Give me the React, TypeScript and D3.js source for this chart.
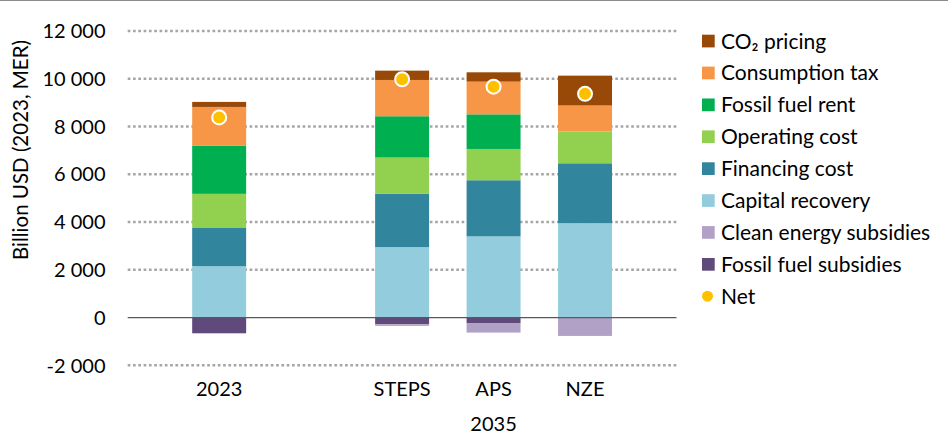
import React from "react";
import * as d3 from "d3";

const categories = ["2023", "", "STEPS", "APS", "NZE"];
const capitalRecovery = [2150, 0, 2950, 3400, 3950];
const financingCost = [1600, 0, 2230, 2350, 2510];
const operatingCost = [1430, 0, 1520, 1310, 1330];
const fossilFuelRent = [2010, 0, 1730, 1450, 0];
const consumptionTax = [1630, 0, 1520, 1370, 1090];
const co2Pricing = [210, 0, 390, 390, 1250];
const fossilFuelSubsidies = [-660, 0, -280, -230, 0];
const cleanEnergySubsidies = [0, 0, -70, -400, -770];
const net: (number | null)[] = [8380, null, 9980, 9670, 9370];
const yTicks = [-2000, 0, 2000, 4000, 6000, 8000, 10000, 12000];
const groupLabel = "2035";

const W = 948;
const H = 435;
const FONT = "Lato, 'Noto Sans', sans-serif";

const seriesDefs = [
  { key: "Capital recovery", values: capitalRecovery, color: "#93CDDD" },
  { key: "Financing cost", values: financingCost, color: "#31859C" },
  { key: "Operating cost", values: operatingCost, color: "#92D050" },
  { key: "Fossil fuel rent", values: fossilFuelRent, color: "#00B050" },
  { key: "Consumption tax", values: consumptionTax, color: "#F79646" },
  { key: "CO2 pricing", values: co2Pricing, color: "#984807" },
  { key: "Fossil fuel subsidies", values: fossilFuelSubsidies, color: "#604A7B" },
  { key: "Clean energy subsidies", values: cleanEnergySubsidies, color: "#B2A1C7" },
];

const legendItems = [
  { label: "CO₂ pricing", color: "#984807" },
  { label: "Consumption tax", color: "#F79646" },
  { label: "Fossil fuel rent", color: "#00B050" },
  { label: "Operating cost", color: "#92D050" },
  { label: "Financing cost", color: "#31859C" },
  { label: "Capital recovery", color: "#93CDDD" },
  { label: "Clean energy subsidies", color: "#B2A1C7" },
  { label: "Fossil fuel subsidies", color: "#604A7B" },
];

const fmt = (v: number) =>
  d3.format(",")(v).replace(/,/g, " ").replace("\u2212", "-");

export default function App() {
  const keyed = categories.map((c, i) => c || `gap${i}`);
  const x = d3
    .scaleBand<string>()
    .domain(keyed)
    .range([127.7, 676.5])
    .paddingInner(0.41)
    .paddingOuter(0.705);
  const y = d3.scaleLinear().domain([-2000, 12000]).range([365.3, 31]);

  const rows = keyed.map((k, i) => {
    const r: Record<string, any> = { cat: k };
    seriesDefs.forEach((s) => (r[s.key] = s.values[i]));
    return r;
  });
  const stack = d3
    .stack<any>()
    .keys(seriesDefs.map((s) => s.key))
    .offset(d3.stackOffsetDiverging);
  const stacked = stack(rows);

  const x0 = 127.7;
  const x1 = 676.5;

  return (
    <svg
      width={W}
      height={H}
      style={{ position: "absolute", left: 0, top: 0, background: "#fff" }}
      fontFamily={FONT}
    >
      <rect x={0} y={0} width={W} height={H} fill="#fff" />
      <line x1={0} x2={W} y1={0.5} y2={0.5} stroke="#8c8c8c" strokeWidth={1} />
      {yTicks
        .filter((t) => t !== 0)
        .map((t) => (
          <line
            key={t}
            x1={x0}
            x2={x1}
            y1={y(t)}
            y2={y(t)}
            stroke="#a6a6a6"
            strokeWidth={2.5}
            strokeDasharray="2.7 2.6"
          />
        ))}
      {stacked.map((layer, li) => (
        <g key={layer.key} fill={seriesDefs[li].color}>
          {layer.map((d, i) => {
            const top = y(Math.max(d[0], d[1]));
            const bot = y(Math.min(d[0], d[1]));
            if (bot - top <= 0) return null;
            return (
              <rect
                key={i}
                x={x(keyed[i])}
                y={top}
                width={x.bandwidth()}
                height={bot - top}
              />
            );
          })}
        </g>
      ))}
      <line x1={x0} x2={x1} y1={y(0)} y2={y(0)} stroke="#595959" strokeWidth={1.3} />
      {net.map((v, i) =>
        v == null ? null : (
          <circle
            key={i}
            cx={(x(keyed[i]) as number) + x.bandwidth() / 2}
            cy={y(v)}
            r={7}
            fill="#FFC000"
            stroke="#fff"
            strokeWidth={2}
          />
        )
      )}
      {yTicks.map((t) => (
        <text
          key={t}
          x={105.5}
          y={y(t)}
          dy="0.36em"
          textAnchor="end"
          fontSize={20}
          fill="#000"
        >
          {fmt(t)}
        </text>
      ))}
      <text
        transform={`translate(28,150) rotate(-90)`}
        textAnchor="middle"
        fontSize={20.5}
        fill="#000"
      >
        Billion USD (2023, MER)
      </text>
      {categories.map((c, i) =>
        c ? (
          <text
            key={c}
            x={(x(keyed[i]) as number) + x.bandwidth() / 2}
            y={395.5}
            textAnchor="middle"
            fontSize={20}
            fill="#000"
          >
            {c}
          </text>
        ) : null
      )}
      <text
        x={(x(keyed[3]) as number) + x.bandwidth() / 2}
        y={430.5}
        textAnchor="middle"
        fontSize={20}
        fill="#000"
      >
        {groupLabel}
      </text>
      {legendItems.map((it, i) => {
        const cy = 41 + i * 31.9;
        return (
          <g key={it.label}>
            <rect x={702} y={cy - 6.3} width={12.7} height={12.7} fill={it.color} />
            <text x={721} y={cy} dy="0.36em" fontSize={21} fill="#000">
              {it.label}
            </text>
          </g>
        );
      })}
      <g>
        <circle cx={707.5} cy={41 + 8 * 31.9} r={5.5} fill="#FFC000" />
        <text x={721} y={41 + 8 * 31.9} dy="0.36em" fontSize={21} fill="#000">
          Net
        </text>
      </g>
    </svg>
  );
}
